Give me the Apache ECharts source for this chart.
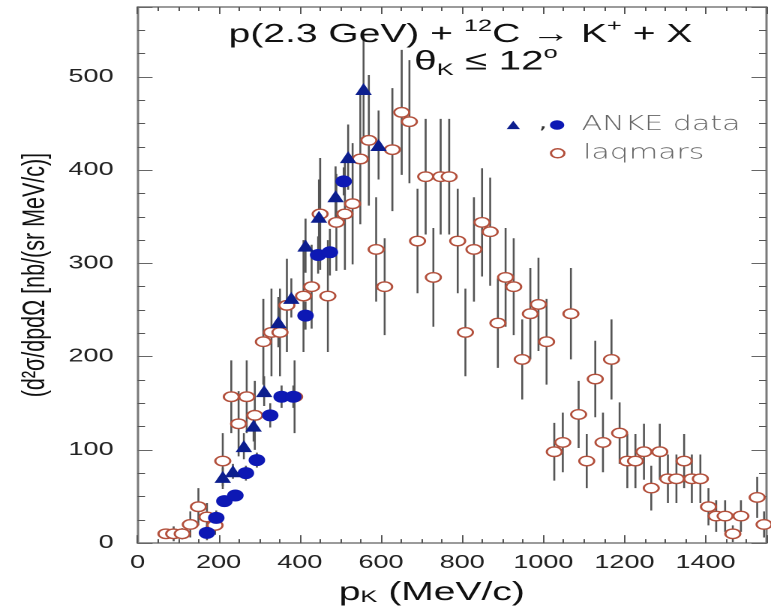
<!DOCTYPE html>
<html>
<head>
<meta charset="utf-8">
<script src="https://cdn.jsdelivr.net/npm/echarts@6/dist/echarts.min.js"></script>
<style>
html,body{margin:0;padding:0;background:#fff;overflow:hidden;}
#wrap{width:771px;height:611px;overflow:hidden;position:relative;}
#chart{width:514px;height:611px;transform:scaleX(1.5);transform-origin:0 0;}
</style>
</head>
<body>
<div id="wrap"><div id="chart"></div></div>
<script>
// ---- tick labels ----
const xTickLabels = [0, 200, 400, 600, 800, 1000, 1200, 1400];
const yTickLabels = [0, 100, 200, 300, 400, 500];

// ---- ANKE data, triangles: momentum, cross section, error ----
const ankeTriP   = [210, 235, 262, 286, 312, 347, 379, 414, 447, 488, 519, 557, 594];
const ankeTriXs  = [ 71,  77, 104, 126, 163, 237, 263, 319, 350, 372, 414, 487, 427];
const ankeTriErr = [ 10,   8,  14,  17,  16,  27,  21,  29,  40,  32,  35,  58,  37];

// ---- ANKE data, filled circles ----
const ankeCircP   = [171, 194, 214, 241, 267, 294, 327, 355, 384, 414, 445, 474, 508];
const ankeCircXs  = [ 11,  27,  45,  51,  75,  89, 137, 157, 157, 244, 309, 312, 388];
const ankeCircErr = [  8,   8,   6,   6,   8,   8,  13,  12,  12,  15,  20,  25,  15];

// ---- laqmars (open circles) ----
const laqP = [70, 89, 110, 130, 150, 171, 191, 210, 231, 249, 269, 289, 310, 330, 351, 368, 387, 409, 429, 450,
  469, 490, 511, 530, 549, 570, 588, 609, 628, 651, 670, 690, 710, 729, 747, 768, 789, 808, 829, 849,
  869, 888, 907, 927, 948, 968, 988, 1008, 1027, 1048, 1068, 1087, 1107, 1128, 1147, 1168, 1188, 1207, 1227, 1248,
  1266, 1287, 1307, 1328, 1347, 1366, 1387, 1407, 1426, 1448, 1467, 1487, 1527, 1544];
const laqXs = [10, 10, 10, 20, 39, 28, 19, 88, 157, 128, 157, 137, 216, 226, 226, 255, 157, 265, 275, 353,
  265, 344, 353, 364, 412, 432, 315, 275, 422, 462, 452, 324, 393, 285, 393, 393, 324, 226, 315, 344,
  334, 236, 285, 275, 197, 246, 256, 216, 98, 108, 246, 138, 88, 176, 108, 197, 118, 88, 88, 98,
  59, 98, 69, 69, 88, 69, 69, 39, 29, 29, 10, 29, 49, 20];
const laqErr = [5, 8, 6, 14, 20, 15, 10, 30, 39, 35, 39, 37, 46, 47, 47, 50, 39, 60, 45, 60,
  60, 52, 60, 65, 70, 70, 56, 52, 66, 67, 66, 56, 62, 53, 62, 62, 56, 47, 56, 58,
  58, 48, 53, 52, 43, 49, 50, 46, 31, 32, 49, 36, 29, 41, 32, 43, 33, 29, 29, 30,
  24, 30, 26, 26, 29, 26, 26, 20, 17, 17, 9, 17, 22, 14];

const FONT = "'Liberation Sans', Arial, Helvetica, sans-serif";
const LEGFONT = "'DejaVu Sans', sans-serif";
const C_TRI = '#0c1e8e';
const C_CIRC = '#0d18b4';
const C_LAQ = '#b3503c';
const C_BAR = '#555';

function pairs(p, s) { return p.map((v, i) => [v, s[i]]); }

function errBars(name, p, s, e) {
  return {
    type: 'custom', name: name, silent: true, z: 1, clip: true,
    data: p.map((v, i) => [v, s[i] - e[i], s[i] + e[i]]),
    encode: { x: 0, y: [1, 2] },
    renderItem: function (params, api) {
      const lo = api.coord([api.value(0), api.value(1)]);
      const hi = api.coord([api.value(0), api.value(2)]);
      return { type: 'line', shape: { x1: lo[0], y1: lo[1], x2: hi[0], y2: hi[1] },
               style: { stroke: C_BAR, lineWidth: 1.3 } };
    }
  };
}

const axLine = { show: true, onZero: false, lineStyle: { color: '#7a7a7a', width: 1.5 } };

const chart = echarts.init(document.getElementById('chart'), null, { renderer: 'canvas', devicePixelRatio: 2 });
chart.setOption({
  animation: false,
  backgroundColor: '#fff',
  grid: { left: 91.7, right: 0.8, top: 7, bottom: 67.7, containLabel: false },
  xAxis: [{
    type: 'value', position: 'bottom', min: 0, max: 1550, interval: 200,
    axisLine: axLine,
    axisTick: { inside: true, length: 8, lineStyle: { color: '#555', width: 1 } },
    minorTick: { show: true, splitNumber: 4, length: 4, lineStyle: { color: '#555', width: 1 } },
    splitLine: { show: false }, minorSplitLine: { show: false },
    axisLabel: { fontFamily: FONT, fontSize: 18, color: '#222', margin: 11,
      formatter: v => (xTickLabels.indexOf(v) >= 0 ? String(v) : '') },
    name: 'p{sub|K} (MeV/c)', nameLocation: 'middle', nameGap: 27,
    nameTextStyle: { fontFamily: FONT, fontSize: 26, color: '#111', padding: [0, 27, 0, 0],
      rich: { sub: { fontFamily: FONT, fontSize: 17, color: '#111', verticalAlign: 'bottom', lineHeight: 17, padding: [12, 0, 0, 0] } } }
  }, {
    type: 'value', position: 'top', min: 0, max: 1550, interval: 200,
    axisLine: axLine,
    axisTick: { inside: true, length: 7, lineStyle: { color: '#555', width: 1 } },
    minorTick: { show: true, splitNumber: 4, length: 4, lineStyle: { color: '#555', width: 1 } },
    splitLine: { show: false }, minorSplitLine: { show: false },
    axisLabel: { show: false }
  }],
  yAxis: [{
    type: 'value', position: 'left', min: 0, max: 575, interval: 100,
    axisLine: axLine,
    axisTick: { inside: true, length: 10, lineStyle: { color: '#666', width: 1 } },
    minorTick: { show: true, splitNumber: 4, length: 5, lineStyle: { color: '#555', width: 1 } },
    splitLine: { show: false }, minorSplitLine: { show: false },
    axisLabel: { fontFamily: FONT, fontSize: 18, color: '#222', margin: 16,
      formatter: v => (yTickLabels.indexOf(v) >= 0 ? String(v) : '') },
    name: '(d²σ/dpdΩ [nb/(sr MeV/c)]', nameLocation: 'middle', nameRotate: 90, nameGap: 56,
    nameTextStyle: { fontFamily: FONT, fontSize: 21.5, color: '#111' }
  }, {
    type: 'value', position: 'right', min: 0, max: 575, interval: 100,
    axisLine: axLine,
    axisTick: { inside: true, length: 10, lineStyle: { color: '#666', width: 1 } },
    minorTick: { show: true, splitNumber: 4, length: 5, lineStyle: { color: '#555', width: 1 } },
    splitLine: { show: false }, minorSplitLine: { show: false },
    axisLabel: { show: false }
  }],
  series: [
    errBars('laqmars errors', laqP, laqXs, laqErr),
    errBars('ANKE circle errors', ankeCircP, ankeCircXs, ankeCircErr),
    errBars('ANKE triangle errors', ankeTriP, ankeTriXs, ankeTriErr),
    { type: 'scatter', name: 'laqmars', z: 3, data: pairs(laqP, laqXs), symbol: 'circle', symbolSize: [10, 9.5],
      itemStyle: { color: '#fff', borderColor: C_LAQ, borderWidth: 1.4, opacity: 1 } },
    { type: 'scatter', name: 'ANKE data (circles)', z: 4, data: pairs(ankeCircP, ankeCircXs), symbol: 'circle', symbolSize: [11, 12],
      itemStyle: { color: C_CIRC, opacity: 1 } },
    { type: 'scatter', name: 'ANKE data (triangles)', z: 4, data: pairs(ankeTriP, ankeTriXs), symbol: 'triangle', symbolSize: [11, 12],
      itemStyle: { color: C_TRI, opacity: 1 } }
  ],
  graphic: [
    { type: 'text', x: 307, y: 35, z: 10,
      style: { text: '{n|p(2.3 GeV) + }{sup|12}{n|C → K}{sup|+}{n| + X}', align: 'center', verticalAlign: 'middle',
        rich: { n: { fontFamily: FONT, fontSize: 26, lineHeight: 34, fill: '#111' },
                sup: { fontFamily: FONT, fontSize: 17, lineHeight: 17, verticalAlign: 'top', fill: '#111' } } } },
    { type: 'text', x: 324, y: 62, z: 10,
      style: { text: '{n|θ}{sub|K}{n| ≤ 12}{sup|o}', align: 'center', verticalAlign: 'middle',
        rich: { n: { fontFamily: FONT, fontSize: 27, lineHeight: 34, fill: '#111' },
                sub: { fontFamily: FONT, fontSize: 17, lineHeight: 17, verticalAlign: 'bottom', fill: '#111' },
                sup: { fontFamily: FONT, fontSize: 17, lineHeight: 17, verticalAlign: 'top', fill: '#111' } } } },
    { type: 'polygon', z: 10, shape: { points: [[342.2, 120.8], [346.6, 129.1], [337.8, 129.1]] }, style: { fill: C_TRI } },
    { type: 'text', x: 362, y: 124, z: 10, style: { text: ',', fontFamily: LEGFONT, fontSize: 18, fill: '#333', align: 'center', verticalAlign: 'middle' } },
    { type: 'circle', z: 10, shape: { cx: 371.4, cy: 125, r: 4.8 }, style: { fill: C_CIRC } },
    { type: 'text', x: 387.8, y: 125, z: 10, style: { text: 'ANKE data', fontFamily: LEGFONT, fontWeight: 200, fontSize: 20, fill: '#666', align: 'left', verticalAlign: 'middle' } },
    { type: 'circle', z: 10, shape: { cx: 371.8, cy: 153.3, r: 4.5 }, style: { fill: '#fff', stroke: C_LAQ, lineWidth: 1.5 } },
    { type: 'text', x: 388.7, y: 153.3, z: 10, style: { text: 'laqmars', fontFamily: LEGFONT, fontWeight: 200, fontSize: 20, fill: '#666', align: 'left', verticalAlign: 'middle' } }
  ]
});
</script>
</body>
</html>
